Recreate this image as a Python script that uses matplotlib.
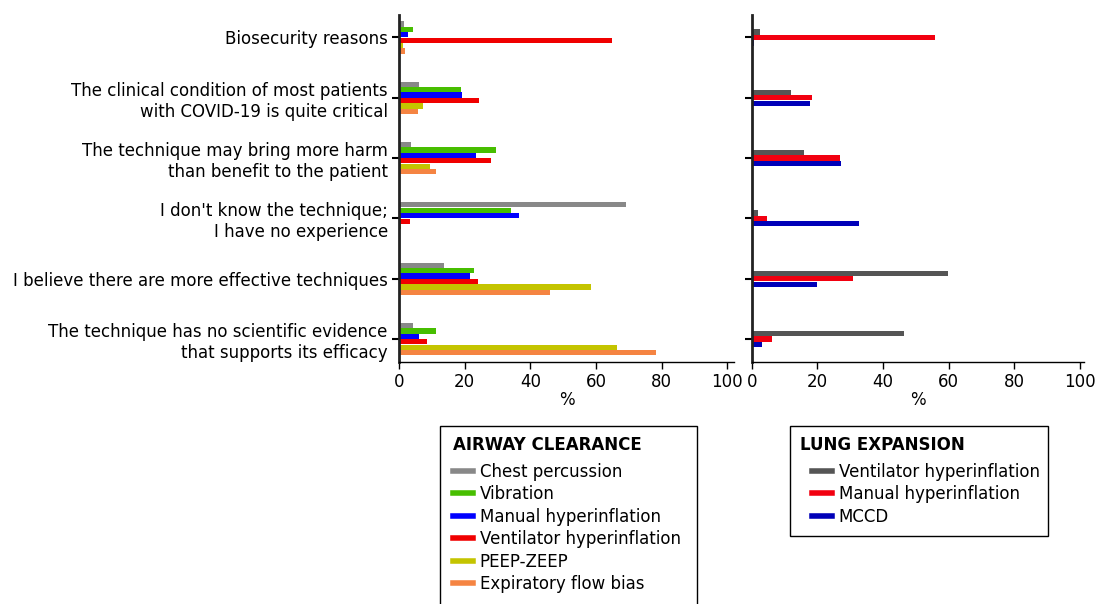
"""Reasons for not using airway clearance / lung expansion techniques in COVID-19."""
import numpy as np
import matplotlib.pyplot as plt
from matplotlib.patches import Rectangle
from matplotlib.lines import Line2D

plt.rcParams["font.family"] = ["DejaVu Sans"]

# --- Data (% of respondents) ---
reasons = [
    "Biosecurity reasons",
    "The clinical condition of most patients\nwith COVID-19 is quite critical",
    "The technique may bring more harm\nthan benefit to the patient",
    "I don't know the technique;\nI have no experience",
    "I believe there are more effective techniques",
    "The technique has no scientific evidence\nthat supports its efficacy",
]

airway_names = ["Chest percussion", "Vibration", "Manual hyperinflation",
                "Ventilator hyperinflation", "PEEP-ZEEP", "Expiratory flow bias"]
chest_percussion = [1.5, 6.2, 3.8, 69.0, 13.6, 4.2]
vibration = [4.4, 18.8, 29.6, 34.1, 22.7, 11.2]
manual_hyper_aw = [2.9, 19.1, 23.6, 36.5, 21.7, 6.2]
ventilator_hyper_aw = [65.0, 24.3, 28.0, 3.5, 24.0, 8.6]
peep_zeep = [1.1, 7.2, 9.6, 0.6, 58.5, 66.4]
expiratory_flow = [1.7, 5.8, 11.4, 0.0, 46.0, 78.3]

lung_names = ["Ventilator hyperinflation", "Manual hyperinflation", "MCCD"]
ventilator_hyper_le = [2.6, 12.1, 15.9, 1.8, 59.8, 46.4]
manual_hyper_le = [55.9, 18.3, 27.0, 4.6, 30.7, 6.1]
mccd = [0.6, 17.6, 27.3, 32.7, 19.9, 3.2]

airway_colors = ["#888888", "#47be00", "#0000ff", "#f00000", "#c4c400", "#f58442"]
lung_colors = ["#555555", "#f20010", "#0000b8"]

airway_series = [chest_percussion, vibration, manual_hyper_aw,
                 ventilator_hyper_aw, peep_zeep, expiratory_flow]
lung_series = [ventilator_hyper_le, manual_hyper_le, mccd]

# --- Figure ---
fig = plt.figure(figsize=(10.96, 6.04), dpi=100)
ax_l = fig.add_axes([0.364, 0.4007, 0.3057, 0.5745])
ax_r = fig.add_axes([0.6859, 0.4007, 0.3032, 0.5745])

y = np.arange(len(reasons))
h = 0.09


def grouped(ax, series, colors, xmax):
    n = len(series)
    for i, (vals, c) in enumerate(zip(series, colors)):
        ax.barh(y + (i - (n - 1) / 2) * h, vals, height=h * 0.97, color=c,
                edgecolor="none")
    ax.set_xlim(0, xmax)
    ax.set_ylim(5.38, -0.373)
    ax.set_xticks([0, 20, 40, 60, 80, 100])
    ax.set_yticks(y)
    for s in ["top", "right"]:
        ax.spines[s].set_visible(False)
    ax.spines["left"].set_linewidth(2.0)
    ax.spines["left"].set_color("#222222")
    ax.spines["bottom"].set_linewidth(1.0)
    ax.tick_params(axis="x", labelsize=12, length=5, width=1, pad=3)
    ax.tick_params(axis="y", length=5, width=1.5, pad=3)
    ax.set_xlabel("%", fontsize=12, labelpad=0)


grouped(ax_l, airway_series, airway_colors, 102)
ax_l.set_yticklabels(reasons, fontsize=12)
grouped(ax_r, lung_series, lung_colors, 101.2)
ax_r.set_yticklabels([])


# --- Legends (title drawn separately, boxes as rectangles) ---
def legend_block(names, colors, title, title_x, hx, box):
    handles = [Line2D([], [], color=c, lw=4) for c in colors]
    fig.legend(handles, names, loc="upper left", bbox_to_anchor=(hx, 0.234),
               frameon=False, fontsize=12, borderpad=0, borderaxespad=0,
               handlelength=1.2, handletextpad=0.4, labelspacing=0.27)
    fig.text(title_x, 1 - 445 / 604, title, fontsize=12, weight="bold",
             va="center", ha="left")
    fig.add_artist(Rectangle(box[:2], box[2], box[3], transform=fig.transFigure,
                             fill=False, edgecolor="black", lw=1.0))


legend_block(airway_names, airway_colors, "AIRWAY CLEARANCE",
             453 / 1096, 453 / 1096, (0.4015, -0.02, 0.2345, 0.315))
legend_block(lung_names, lung_colors, "LUNG EXPANSION",
             800 / 1096, 812 / 1096, (0.7208, 0.1126, 0.2354, 0.182))

fig.savefig("out.png", dpi=100)
plt.close(fig)
